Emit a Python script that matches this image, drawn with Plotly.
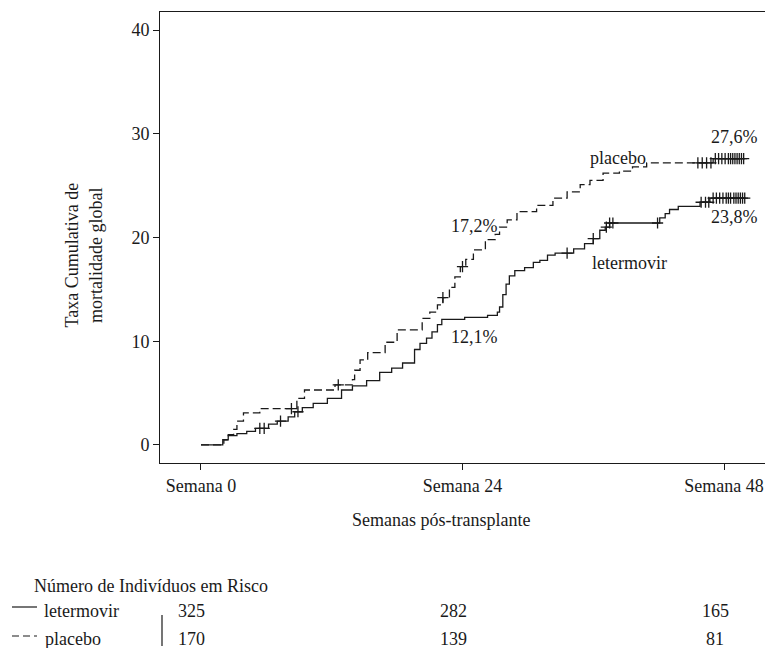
import numpy as np
import plotly.graph_objects as go

# ---- data ----
let_weeks = [0, 2.0, 2.5, 3.3, 4.2, 5.0, 6.2, 7.0, 8.0, 8.6, 9.3, 10.3, 11.6, 12.9, 13.9,
             15.2, 16.4, 17.5, 18.5, 19.6, 20.1, 20.7, 21.2, 21.7, 22.1, 24.2, 26.3, 27.2,
             27.4, 27.7, 28.0, 28.3, 28.8, 29.7, 30.5, 31.1, 31.8, 32.5, 34.2, 35.2, 36.0,
             36.6, 37.1, 37.5, 42.1, 42.6, 43.0, 43.8, 45.8, 46.7, 49.9]
let_rate = [0, 0.5, 0.9, 1.1, 1.3, 1.6, 2.0, 2.3, 2.7, 3.2, 3.6, 4.0, 4.5, 5.3, 5.7,
            6.2, 7.0, 7.4, 7.9, 9.2, 9.8, 10.3, 10.9, 11.6, 12.1, 12.3, 12.5, 12.8,
            13.3, 14.5, 15.5, 16.3, 16.8, 17.1, 17.6, 17.8, 18.3, 18.5, 18.9, 19.4, 19.9,
            20.7, 21.0, 21.4, 21.9, 22.3, 22.7, 23.0, 23.4, 23.8, 23.8]

pla_weeks = [0, 2.1, 2.5, 3.0, 3.3, 3.9, 5.4, 8.8, 9.5, 12.3, 13.9, 14.1, 14.6, 15.3, 16.9,
             18.0, 20.3, 21.0, 21.7, 22.2, 22.8, 23.3, 23.8, 24.3, 25.0, 26.1, 27.0, 27.4,
             28.1, 29.0, 30.8, 32.3, 33.6, 34.8, 35.7, 36.9, 38.4, 39.6, 40.9, 47.0, 49.9]
pla_rate = [0, 0.5, 1.0, 1.5, 2.3, 3.1, 3.5, 4.5, 5.3, 5.8, 6.3, 7.2, 8.2, 8.9, 9.9,
            11.1, 12.2, 12.8, 13.5, 14.2, 15.2, 16.2, 17.2, 17.9, 18.8, 19.8, 20.3, 21.0,
            21.7, 22.5, 23.1, 23.8, 24.4, 25.1, 25.5, 26.2, 26.4, 26.8, 27.2, 27.6, 27.6]

let_censor = [5.4, 5.8, 7.3, 8.9, 33.6, 36.0, 37.2, 37.5, 37.8, 41.9, 45.9, 46.3, 46.6,
              47.0, 47.3, 47.6, 47.9, 48.2, 48.4, 48.6, 48.9, 49.1, 49.3, 49.5, 49.7, 49.9]
pla_censor = [8.3, 12.6, 22.2, 24.0, 45.6, 46.0, 46.4, 46.8, 47.2, 47.5, 47.8, 48.1, 48.4,
              48.6, 48.8, 49.0, 49.2, 49.4, 49.6, 49.8]

tick_weeks = [0, 24, 48]
tick_text = ["Semana 0", "Semana 24", "Semana 48"]
risk_let = [325, 282, 165]
risk_pla = [170, 139, 81]

FONT = "Liberation Serif, Times New Roman, serif"
FS = 18
INK = "#1a1a1a"


def step_value(weeks, rates, t):
    idx = np.searchsorted(np.array(weeks), t, side="right") - 1
    return [rates[i] for i in idx]


fig = go.Figure()
fig.add_trace(go.Scatter(x=let_weeks, y=let_rate, mode="lines", line_shape="hv",
                         line=dict(color=INK, width=1.3), showlegend=False))
fig.add_trace(go.Scatter(x=pla_weeks, y=pla_rate, mode="lines", line_shape="hv",
                         line=dict(color=INK, width=1.3, dash="8px,4px"), showlegend=False))
fig.add_trace(go.Scatter(x=let_censor, y=step_value(let_weeks, let_rate, let_censor),
                         mode="markers", showlegend=False,
                         marker=dict(symbol="cross-thin", size=8, line=dict(color=INK, width=1.3))))
fig.add_trace(go.Scatter(x=pla_censor, y=step_value(pla_weeks, pla_rate, pla_censor),
                         mode="markers", showlegend=False,
                         marker=dict(symbol="cross-thin", size=8, line=dict(color=INK, width=1.3))))

ann = []
def txt(x, y, s, xref="x", yref="y", xanchor="center", **kw):
    ann.append(dict(x=x, y=y, text=s, xref=xref, yref=yref, xanchor=xanchor, yanchor="middle",
                    showarrow=False, font=dict(family=FONT, size=FS, color=INK), **kw))

# curve labels
txt(38.3, 27.7, "placebo")
txt(39.3, 17.5, "letermovir")
txt(25.1, 21.1, "17,2%")
txt(25.1, 10.4, "12,1%")
txt(49.0, 29.7, "27,6%")
txt(49.0, 22.0, "23,8%")

# axis titles
txt(0.4645, -0.1264, "Semanas pós-transplante", xref="paper", yref="paper")
txt(-0.1248, 0.4612, "Taxa Cumulativa de<br>mortalidade global", xref="paper", yref="paper",
    textangle=-90)

# risk table
txt(-0.2116, -0.2727, "Número de Indivíduos em Risco", xref="paper", yref="paper", xanchor="left")
txt(-0.195, -0.328, "letermovir", xref="paper", yref="paper", xanchor="left")
txt(-0.193, -0.390, "placebo", xref="paper", yref="paper", xanchor="left")
for w, a, b in zip(tick_weeks, risk_let, risk_pla):
    txt(w, -0.328, str(a), yref="paper", xshift=-9)
    txt(w, -0.390, str(b), yref="paper", xshift=-9)

shapes = [
    dict(type="line", xref="paper", yref="paper", x0=(12 - 160) / 605, x1=(37 - 160) / 605,
         y0=(463 - 607) / 451, y1=(463 - 607) / 451, line=dict(color=INK, width=1.2)),
    dict(type="line", xref="paper", yref="paper", x0=(12 - 160) / 605, x1=(37 - 160) / 605,
         y0=(463 - 636) / 451, y1=(463 - 636) / 451, line=dict(color=INK, width=1.2, dash="7px,4px")),
    dict(type="line", xref="paper", yref="paper", x0=(162 - 160) / 605, x1=(162 - 160) / 605,
         y0=(463 - 615) / 451, y1=(463 - 646) / 451, line=dict(color=INK, width=1.2)),
]

fig.update_layout(
    width=765, height=648,
    margin=dict(l=160, r=0, t=12, b=185, pad=0),
    paper_bgcolor="white", plot_bgcolor="white",
    font=dict(family=FONT, size=FS, color=INK),
    annotations=ann, shapes=shapes,
    xaxis=dict(range=[-3.76, 51.76], tickvals=tick_weeks, ticktext=tick_text,
               showgrid=False, zeroline=False, showline=True, linecolor=INK, linewidth=1,
               mirror=True, ticks="outside", ticklen=6, tickcolor=INK, tickwidth=1,
               tickfont=dict(family=FONT, size=FS, color=INK)),
    yaxis=dict(range=[-1.74, 41.74], tickvals=[0, 10, 20, 30, 40],
               showgrid=False, zeroline=False, showline=True, linecolor=INK, linewidth=1,
               mirror=False, ticks="outside", ticklen=6, tickcolor=INK, tickwidth=1,
               tickfont=dict(family=FONT, size=FS, color=INK)),
)

fig.write_html("out.html", config={"displayModeBar": False},
               post_script="document.body.style.margin='0';document.body.style.overflow='hidden';")
